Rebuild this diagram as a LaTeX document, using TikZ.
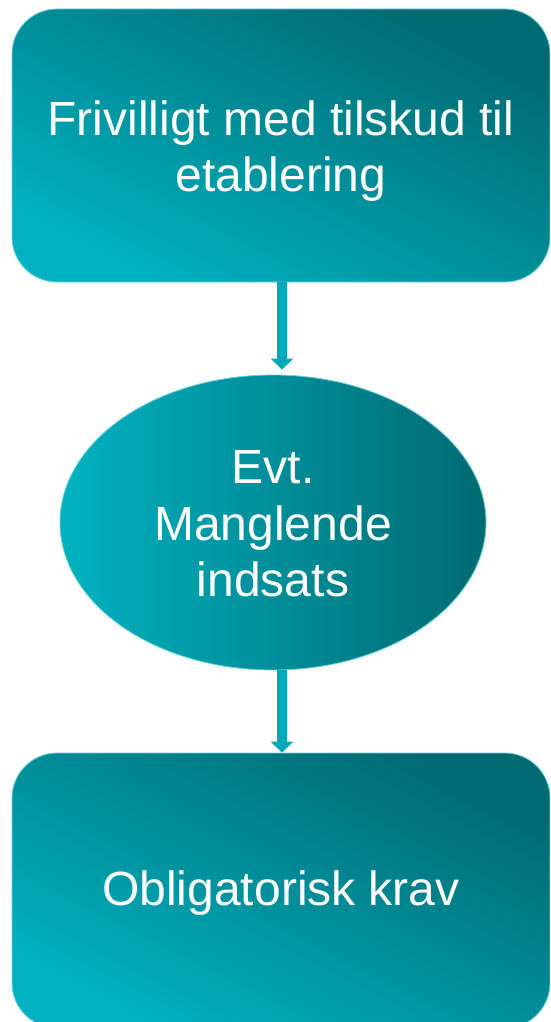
\documentclass[tikz,border=0pt]{standalone}
\usepackage{fontspec}
\setmainfont{Liberation Sans}
\usetikzlibrary{arrows.meta,shapes.geometric}
\definecolor{tealdark}{HTML}{006A72}
\definecolor{teallight}{HTML}{00B2C1}
\definecolor{arrowc}{HTML}{00A9B8}
\begin{document}
\begin{tikzpicture}[x=1pt,y=-1pt,
  box/.style={rectangle, rounded corners=45pt, minimum width=538pt, minimum height=273pt,
    top color=tealdark, bottom color=teallight, shading angle=-27,
    draw=teallight!60!white, line width=0.8pt, inner sep=0pt},
  oval/.style={ellipse, minimum width=426pt, minimum height=295pt, inner sep=0pt,
    left color=teallight, right color=tealdark, draw=teallight!60!white, line width=0.8pt},
  lbl/.style={text=white, font=\fontsize{48}{56.5}\selectfont, align=center, inner sep=0pt},
  conn/.style={draw=arrowc, line width=10pt, -{Triangle[width=22pt,length=11pt]}}]
\useasboundingbox (0,0) rectangle (550,1022);
\begin{scope}
\clip (0,0) rectangle (550,1022);
\node[box] (b1) at (281,145.5) {};
\node[oval] (e) at (273,522.5) {};
\node[box, minimum height=275pt] (b3) at (281,890.5) {};
\end{scope}
\node[lbl] (t1) at (281,151) {Frivilligt med tilskud til\\etablering};
\node[lbl] (t2) at (273,524) {Evt.\\Manglende\\indsats};
\node[lbl] (t3) at (281,893) {Obligatorisk krav};
\draw[conn, shorten >=5pt] ([xshift=1pt]b1.south) -- ([xshift=1pt]b1.south |- e.north);
\draw[conn] ([xshift=1pt]b1.south |- e.south) -- ([xshift=1pt]b3.north);
\end{tikzpicture}
\end{document}
